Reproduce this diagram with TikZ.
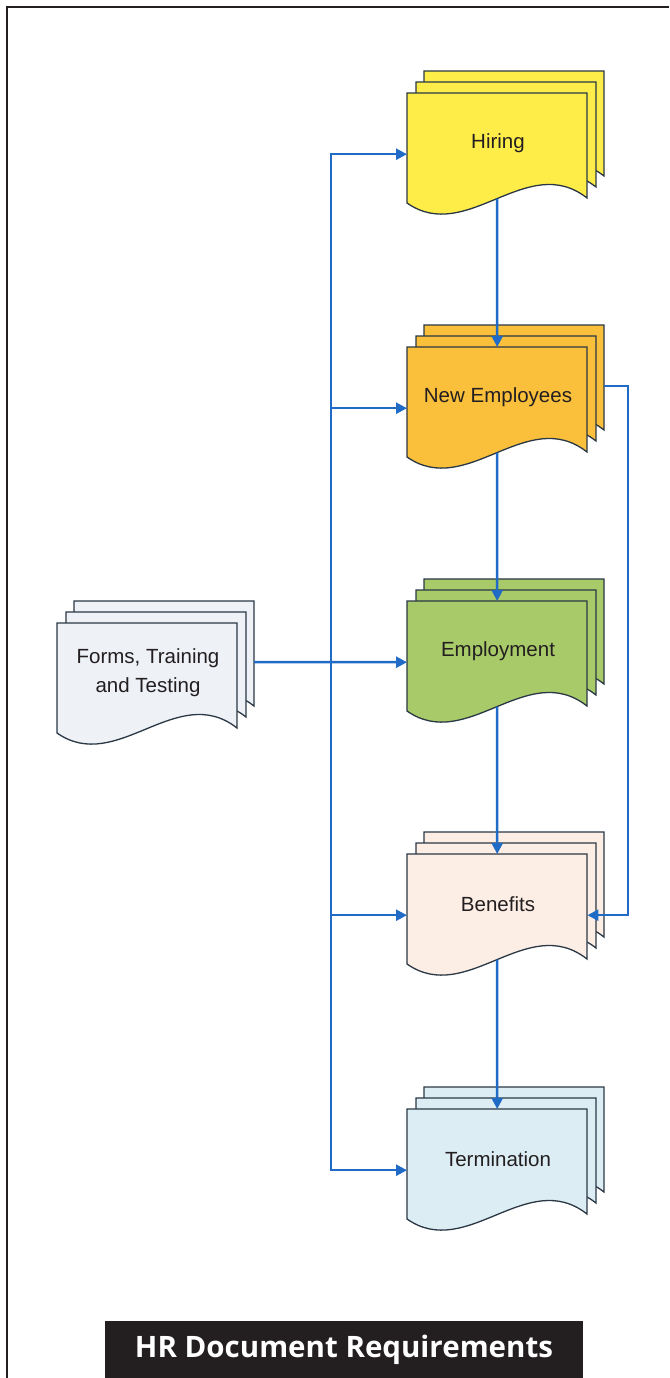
\documentclass[tikz,border=0pt]{standalone}
\usepackage{fontspec}
\setmainfont{Liberation Sans}
\newfontfamily\titlefont{Open Sans}
\usetikzlibrary{arrows.meta}

\definecolor{hireC}{HTML}{FEEC48}
\definecolor{newC}{HTML}{FAC03C}
\definecolor{empC}{HTML}{A8CA68}
\definecolor{benC}{HTML}{FDEEE5}
\definecolor{termC}{HTML}{DCEDF4}
\definecolor{formC}{HTML}{EEF1F6}
\definecolor{connC}{HTML}{1F6BC6}
\definecolor{edgeC}{HTML}{2A3845}
\definecolor{inkC}{HTML}{231F20}

\tikzset{
  pageline/.style={draw=edgeC, line width=1.3pt, line join=miter},
  docbox/.style={rectangle, draw=none, minimum width=180pt, minimum height=122pt, inner sep=0pt},
  doctext/.style={font=\fontsize{20.5}{29}\selectfont, text=inkC, align=center, inner sep=0pt},
  conn/.style={draw=connC, line width=2.5pt, -{Triangle[length=11pt,width=11pt]}},
  frameline/.style={draw=inkC, line width=2.7pt},
  titlebox/.style={rectangle, fill=inkC, text=white, minimum width=478pt, minimum height=57pt,
    inner sep=0pt, font=\titlefont\bfseries\fontsize{29.5}{34}\selectfont}
}

% one sheet of a document stack: top-left corner, fill colour
\newcommand\drawpage[3]{%
  \draw[pageline, fill=#3] (#1,#2) -- (#1+180,#2) -- (#1+180,#2+105)
    .. controls (#1+120,#2+58) and (#1+60,#2+152) .. (#1,#2+110) -- cycle;}

% a stack of three sheets: name, x, y of front sheet, fill colour, label
\newcommand\docstack[5]{%
  \begin{scope}[shift={(#2,#3)}]
    \drawpage{17}{-22}{#4}
    \drawpage{9}{-11}{#4}
    \drawpage{0}{0}{#4}
    \node[docbox, anchor=north west] (#1) at (0,0) {};
    \node[doctext] (#1-t) at (91,50) {#5};
    \coordinate (#1-b) at (90,105.6);
    \coordinate (#1-r) at (197,39);
  \end{scope}}

\begin{document}
\begin{tikzpicture}[x=1pt, y=-1pt]
  \useasboundingbox (0,0) rectangle (669,1378);

  % frame
  \draw[frameline] (7,1378) -- (7,7) -- (669,7);

  % document stacks
  \docstack{hire}{407}{93}{hireC}{Hiring}
  \docstack{newemp}{407}{347}{newC}{New Employees}
  \docstack{employ}{407}{601}{empC}{Employment}
  \docstack{benefit}{407}{854}{benC}{Benefits}
  \docstack{term}{407}{1109}{termC}{Termination}
  \docstack{forms}{57}{623}{formC}{Forms, Training\\and Testing}

  % distribution bus
  \coordinate (bus) at (331,662);

  % connectors from forms
  \draw[conn] (forms-r) -- (employ.west);
  \draw[conn] (forms-r) -- (bus) |- (hire.west);
  \draw[conn] (forms-r) -- (bus) |- (newemp.west);
  \draw[conn] (forms-r) -- (bus) |- (benefit.west);
  \draw[conn] (forms-r) -- (bus) |- (term.west);

  % main flow
  \draw[conn] (hire-b) -- (newemp.north);
  \draw[conn] (newemp-b) -- (employ.north);
  \draw[conn] (employ-b) -- (benefit.north);
  \draw[conn] (benefit-b) -- (term.north);

  % new employees to benefits
  \draw[conn] (newemp-r) -- ++(24,0) |- (benefit.east);

  % title
  \node[titlebox] (title) at (344,1349.5) {HR Document Requirements};
\end{tikzpicture}
\end{document}
